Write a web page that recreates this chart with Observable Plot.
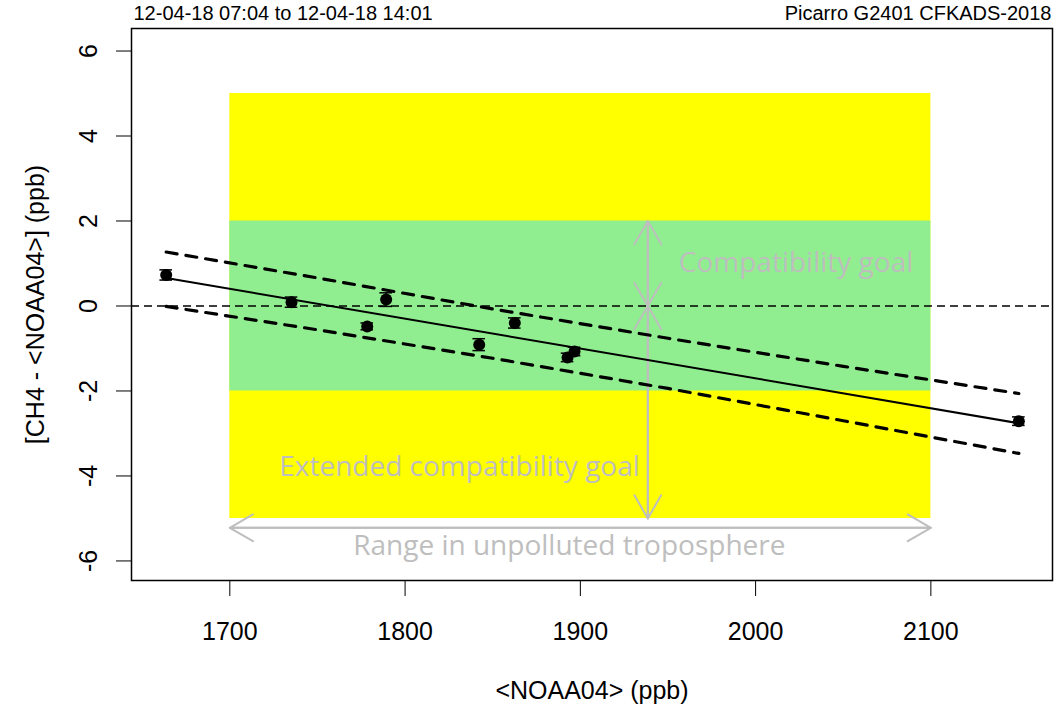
<!DOCTYPE html>
<html>
<head>
<meta charset="utf-8">
<script src="https://cdn.jsdelivr.net/npm/d3@7"></script>
<script src="https://cdn.jsdelivr.net/npm/@observablehq/plot@0.6"></script>
<style>
  html, body { margin: 0; padding: 0; background: #fff; }
  #chart { width: 1057px; height: 706px; }
</style>
</head>
<body>
<div id="chart"></div>
<script>
// ---- data ----
const noaa = [1663.7, 1735.2, 1778.4, 1789.2, 1842.3, 1862.6, 1892.7, 1896.7, 2150.2];
const diff = [0.73, 0.09, -0.48, 0.15, -0.91, -0.40, -1.21, -1.07, -2.71];
const diffErr = [0.12, 0.12, 0.08, 0.16, 0.14, 0.12, 0.10, 0.10, 0.10];

const fitX = [1663.7, 2150.2];
const fitY = [0.66, -2.76];

const bandX = [1663.7, 1750, 1850, 1950, 2050, 2150.2];
const bandUpper = [1.27, 0.66, -0.07, -0.76, -1.42, -2.06];
const bandLower = [-0.01, -0.56, -1.23, -1.94, -2.70, -3.47];

const rangeX = [1700, 2100];           // unpolluted troposphere range
const extendedGoal = [-5, 5];
const compatGoal = [-2, 2];
const arrowX = 1938.5;
const rangeArrowY = -5.22;

const xTicks = [1700, 1800, 1900, 2000, 2100];
const yTicks = [-6, -4, -2, 0, 2, 4, 6];

const titleLeft = "12-04-18 07:04 to 12-04-18 14:01";
const titleRight = "Picarro G2401 CFKADS-2018";
const xLabel = "<NOAA04> (ppb)";
const yLabel = "[CH4 - <NOAA04>] (ppb)";
const txtCompat = "Compatibility goal";
const txtExtended = "Extended compatibility goal";
const txtRange = "Range in unpolluted troposphere";

// ---- derived tables ----
const points = noaa.map((x, i) => ({x, y: diff[i], e: diffErr[i]}));
const fit = fitX.map((x, i) => ({x, y: fitY[i]}));
const upper = bandX.map((x, i) => ({x, y: bandUpper[i]}));
const lower = bandX.map((x, i) => ({x, y: bandLower[i]}));
const zones = [
  {x1: rangeX[0], x2: rangeX[1], y1: extendedGoal[0], y2: extendedGoal[1], fill: "#FFFF00"},
  {x1: rangeX[0], x2: rangeX[1], y1: compatGoal[0], y2: compatGoal[1], fill: "#90EE90"}
];
const arrows = [
  {x1: arrowX, y1: 0, x2: arrowX, y2: compatGoal[1]},
  {x1: arrowX, y1: compatGoal[1], x2: arrowX, y2: 0},
  {x1: arrowX, y1: 0, x2: arrowX, y2: extendedGoal[0]},
  {x1: arrowX, y1: extendedGoal[0], x2: arrowX, y2: 0},
  {x1: rangeX[0], y1: rangeArrowY, x2: rangeX[1], y2: rangeArrowY},
  {x1: rangeX[1], y1: rangeArrowY, x2: rangeX[0], y2: rangeArrowY}
];

const gray = "#BEBEBE";
const sans = "Liberation Sans, Arial, sans-serif";
const annoFont = "Open Sans, Noto Sans, sans-serif";

const chart = Plot.plot({
  width: 1057,
  height: 706,
  marginLeft: 131,
  marginRight: 5,
  marginTop: 28,
  marginBottom: 126,
  style: {fontFamily: sans, background: "#fff", overflow: "visible"},
  x: {domain: [1643.9, 2169.4]},
  y: {domain: [-6.46, 6.53]},
  marks: [
    Plot.rect(zones, {x1: "x1", x2: "x2", y1: "y1", y2: "y2", fill: d => d.fill}),
    Plot.ruleY([0], {stroke: "#000", strokeWidth: 1.5, strokeDasharray: "8,5"}),
    Plot.arrow(arrows, {x1: "x1", y1: "y1", x2: "x2", y2: "y2", stroke: gray, strokeWidth: 2,
      headLength: 20, headAngle: 60, insetStart: 0, insetEnd: 0}),
    Plot.text([txtCompat], {x: arrowX, y: 1.0, text: d => d, textAnchor: "start", dx: 31,
      fill: gray, fontSize: 28, fontFamily: annoFont, lineAnchor: "middle"}),
    Plot.text([txtExtended], {x: arrowX, y: -3.78, text: d => d, textAnchor: "end", dx: -8,
      fill: gray, fontSize: 28, fontFamily: annoFont, lineAnchor: "middle"}),
    Plot.text([txtRange], {x: (rangeX[0] + rangeX[1]) / 2, y: -5.64, text: d => d, textAnchor: "middle", dx: -11,
      fill: gray, fontSize: 28, fontFamily: annoFont, lineAnchor: "middle"}),
    Plot.line(upper, {x: "x", y: "y", stroke: "#000", strokeWidth: 3.2, strokeDasharray: "11,9", strokeLinecap: "round"}),
    Plot.line(lower, {x: "x", y: "y", stroke: "#000", strokeWidth: 3.2, strokeDasharray: "11,9", strokeLinecap: "round"}),
    Plot.line(fit, {x: "x", y: "y", stroke: "#000", strokeWidth: 2}),
    Plot.ruleX(points, {x: "x", y1: d => d.y - d.e, y2: d => d.y + d.e, stroke: "#000", strokeWidth: 1.5}),
    Plot.ruleY(points, {y: d => d.y - d.e, x1: d => d.x - 3.6, x2: d => d.x + 3.6, stroke: "#000", strokeWidth: 1.5}),
    Plot.ruleY(points, {y: d => d.y + d.e, x1: d => d.x - 3.6, x2: d => d.x + 3.6, stroke: "#000", strokeWidth: 1.5}),
    Plot.dot(points, {x: "x", y: "y", r: 6, fill: "#000", stroke: "none"}),
    Plot.frame({stroke: "#000", strokeWidth: 1.5}),
    Plot.axisX({ticks: xTicks, tickSize: 16, tickPadding: 26, fontSize: 25, label: null, tickFormat: d => String(d)}),
    Plot.axisY({ticks: yTicks, tickSize: 15, tickPadding: 20, fontSize: 25, label: null, tickRotate: -90,
      tickFormat: d => String(d)}),
    Plot.text([xLabel], {frameAnchor: "bottom", dy: 110, text: d => d, fontSize: 25, lineAnchor: "middle"}),
    Plot.text([yLabel], {frameAnchor: "left", dx: -96, rotate: -90, text: d => d, fontSize: 25,
      textAnchor: "middle", lineAnchor: "middle"}),
    Plot.text([titleLeft], {frameAnchor: "top-left", dx: 2, dy: -15, text: d => d, fontSize: 20,
      textAnchor: "start", lineAnchor: "middle"}),
    Plot.text([titleRight], {frameAnchor: "top-right", dx: -1, dy: -15, text: d => d, fontSize: 20,
      textAnchor: "end", lineAnchor: "middle"})
  ]
});
document.getElementById("chart").appendChild(chart);
</script>
</body>
</html>
